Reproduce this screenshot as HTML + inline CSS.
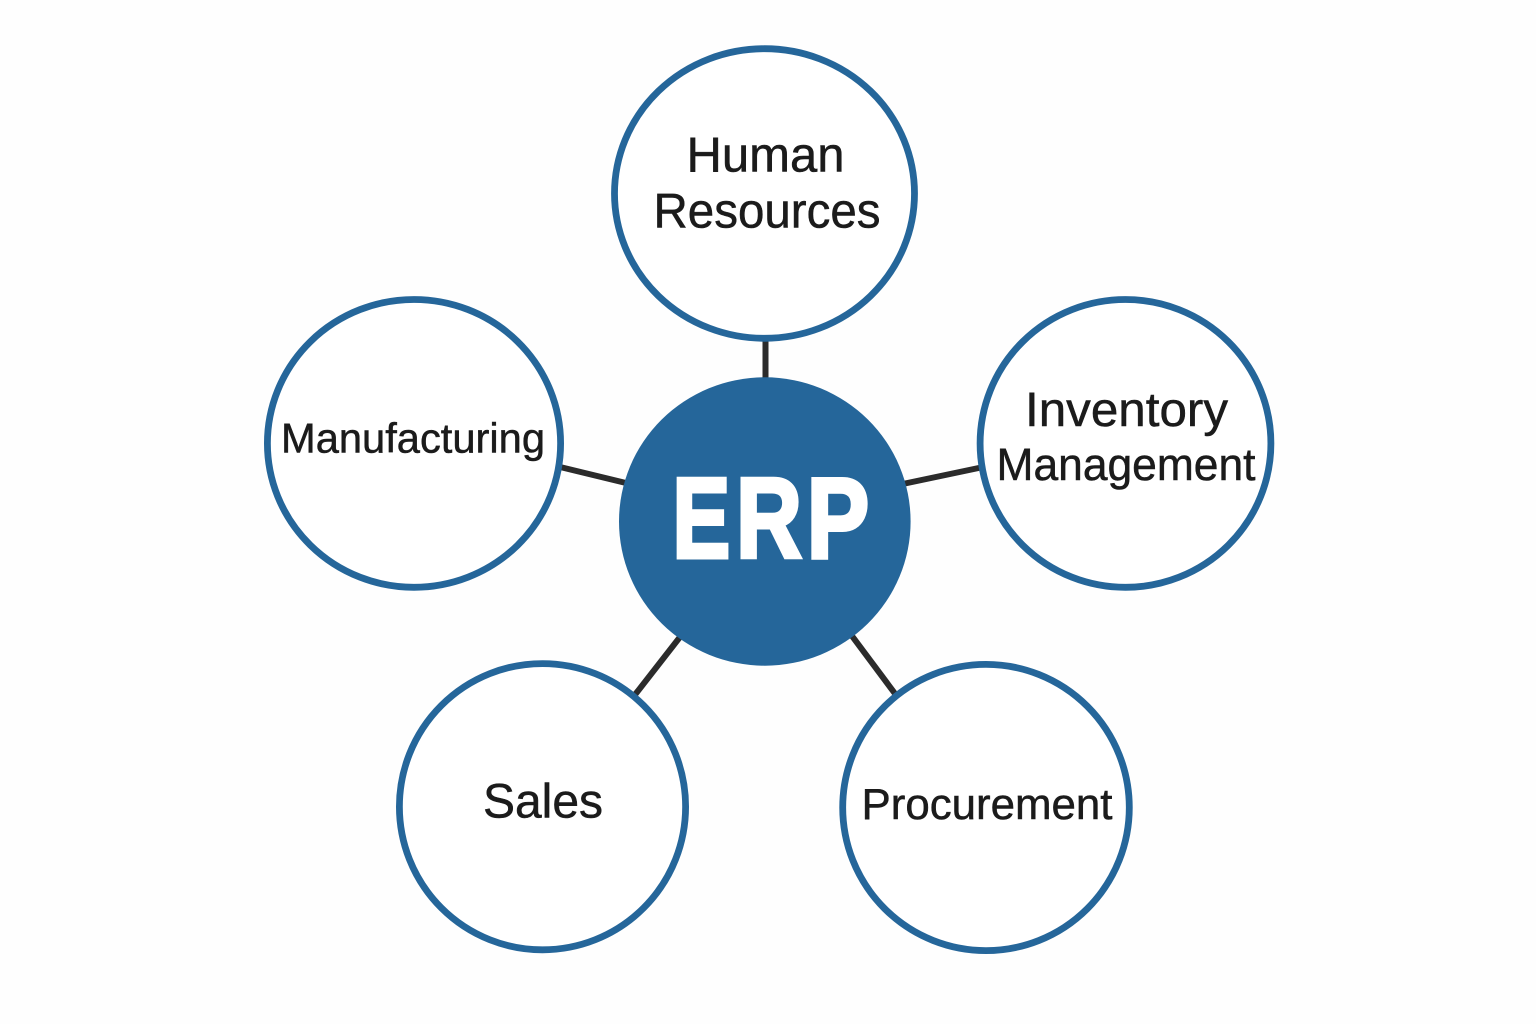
<!DOCTYPE html>
<html><head><meta charset="utf-8"><style>html,body{margin:0;padding:0;background:#fff}svg{display:block}</style></head>
<body>
<svg width="1536" height="1024" viewBox="0 0 1536 1024" xmlns="http://www.w3.org/2000/svg">
<rect width="1536" height="1024" fill="#fefefe"/>
<g stroke="#2b2b2b" stroke-width="6" fill="none">
<line x1="765.500" y1="338" x2="765.500" y2="380"/>
<line x1="558" y1="466.500" x2="626" y2="483"/>
<line x1="905" y1="483.500" x2="981" y2="467.500"/>
<line x1="634" y1="696" x2="680" y2="637"/>
<line x1="852" y1="636" x2="896" y2="695"/>
</g>
<g fill="#fff" stroke="#25669a" stroke-width="6.800">
<ellipse cx="764.500" cy="193.500" rx="150" ry="144.800"/>
<ellipse cx="414" cy="443.400" rx="146.600" ry="143.900"/>
<ellipse cx="1125.500" cy="443.400" rx="145.400" ry="143.900"/>
<ellipse cx="542.500" cy="806.700" rx="143.100" ry="143.100"/>
<ellipse cx="986" cy="807.500" rx="143.300" ry="143.100"/>
</g>
<ellipse cx="764.800" cy="521.500" rx="145.800" ry="144.200" fill="#25669a"/>
<g font-family="'Liberation Sans',sans-serif" fill="#1b1b1b" stroke="#1b1b1b" stroke-width="0.500" text-anchor="middle">
<text x="765.500" y="171.500" font-size="49" textLength="158" lengthAdjust="spacingAndGlyphs">Human</text>
<text x="767" y="227.500" font-size="49" textLength="227" lengthAdjust="spacingAndGlyphs">Resources</text>
<text x="413" y="452.500" font-size="42" textLength="264" lengthAdjust="spacingAndGlyphs">Manufacturing</text>
<text x="1126.500" y="426" font-size="48" textLength="203" lengthAdjust="spacingAndGlyphs">Inventory</text>
<text x="1126" y="480" font-size="45.500" textLength="259" lengthAdjust="spacingAndGlyphs">Management</text>
<text x="543" y="817.500" font-size="48.500" textLength="120" lengthAdjust="spacingAndGlyphs">Sales</text>
<text x="987" y="819" font-size="44" textLength="251" lengthAdjust="spacingAndGlyphs">Procurement</text>
</g>
<g font-family="'Liberation Sans',sans-serif" font-weight="bold" font-size="114.200" fill="#fff" stroke="#fff" stroke-width="4" stroke-linejoin="miter">
<text transform="translate(672.400 557.300) scale(.76 1)">E</text>
<text transform="translate(736 557.300) scale(.80 1)">R</text>
<text transform="translate(806.800 557.300) scale(.82 1)">P</text>
</g>
</svg>
</body></html>
